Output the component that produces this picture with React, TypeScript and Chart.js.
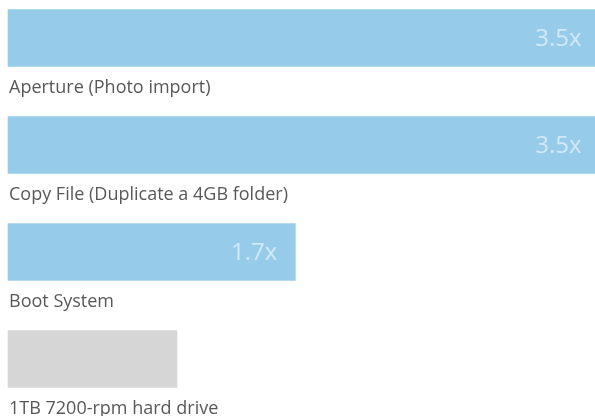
import React, { useEffect, useRef } from "react";
import { Chart, registerables } from "chart.js";

Chart.register(...registerables);

const categories = [
  "Aperture (Photo import)",
  "Copy File (Duplicate a 4GB folder)",
  "Boot System",
  "1TB 7200-rpm hard drive",
];
const values = [3.5, 3.5, 1.7, 1.0];
const valueLabels = ["3.5x", "3.5x", "1.7x", ""];
const barColors = ["#96cbea", "#96cbea", "#96cbea", "#d6d6d6"];

const labelPlugin = {
  id: "barLabels",
  afterDatasetsDraw(chart: any) {
    const ctx = chart.ctx;
    const meta = chart.getDatasetMeta(0);
    ctx.save();
    meta.data.forEach((el: any, i: number) => {
      const props = el.getProps(["x", "y", "base", "height"], true);
      const bottom = props.y + props.height / 2;
      if (valueLabels[i]) {
        ctx.font = "24px 'Open Sans', sans-serif";
        ctx.fillStyle = "#d2e9f7";
        ctx.textAlign = "right";
        ctx.textBaseline = "middle";
        ctx.fillText(valueLabels[i], props.x - 18, props.y + 1);
      }
      ctx.font = "18px 'Open Sans', sans-serif";
      ctx.fillStyle = "#585858";
      ctx.textAlign = "left";
      ctx.textBaseline = "alphabetic";
      ctx.fillText(categories[i], props.base + 1, bottom + 26);
    });
    ctx.restore();
  },
};

export default function App() {
  const ref = useRef<HTMLCanvasElement | null>(null);
  useEffect(() => {
    if (!ref.current) return;
    const chart = new Chart(ref.current, {
      type: "bar",
      data: {
        labels: categories,
        datasets: [
          {
            data: values,
            backgroundColor: barColors,
            borderWidth: 0,
            barThickness: 57,
            clip: false as any,
          },
        ],
      },
      options: {
        indexAxis: "y",
        responsive: false,
        animation: false,
        layout: { padding: { left: 8, right: 0, top: 38, bottom: 57 } },
        plugins: { legend: { display: false }, tooltip: { enabled: false }, title: { display: false } },
        scales: {
          x: { type: "linear", min: 0, max: 3.473, display: false, grid: { display: false } },
          y: { type: "category", offset: false, display: false, grid: { display: false } },
        },
      },
      plugins: [labelPlugin],
    });
    return () => chart.destroy();
  }, []);
  return (
    <div style={{ position: "absolute", left: 0, top: 0, width: 595, height: 416, background: "#fff" }}>
      <canvas ref={ref} width={595} height={416} />
    </div>
  );
}
